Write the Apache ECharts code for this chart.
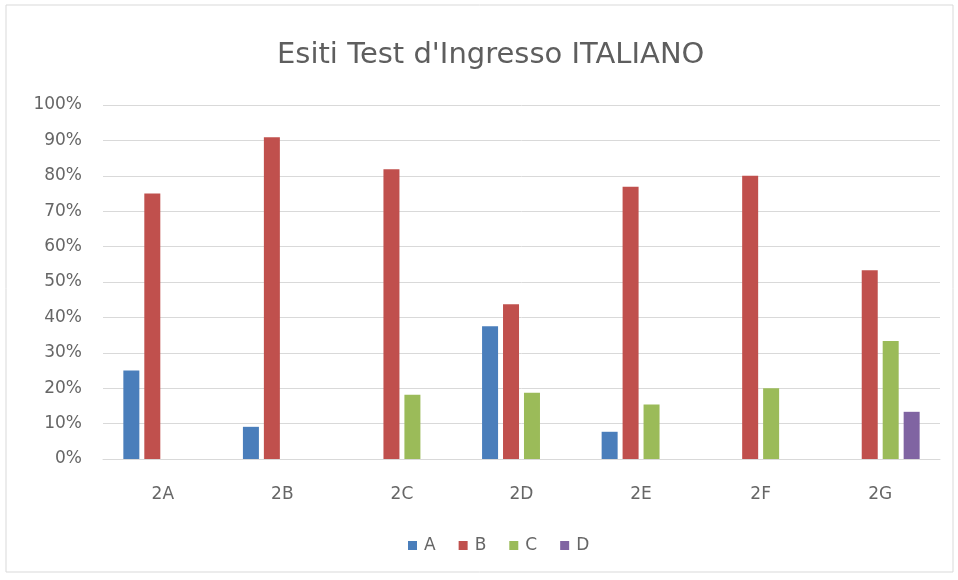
<!DOCTYPE html>
<html>
<head>
<meta charset="utf-8">
<script src="https://cdn.jsdelivr.net/npm/echarts@6/dist/echarts.min.js"></script>
<style>
  html, body { margin: 0; padding: 0; background: #ffffff; }
  #chart { width: 958px; height: 580px; }
</style>
</head>
<body>
<div id="chart"></div>
<script>
// Classi e percentuali per fascia di esito
const classi = ['2A', '2B', '2C', '2D', '2E', '2F', '2G'];
const fasciaA = [0.25, 0.0909, null, 0.375, 0.0769, null, null];
const fasciaB = [0.75, 0.9091, 0.8182, 0.4375, 0.7692, 0.80, 0.5333];
const fasciaC = [null, null, 0.1818, 0.1875, 0.1538, 0.20, 0.3333];
const fasciaD = [null, null, null, null, null, null, 0.1333];
const nomiFasce = ['A', 'B', 'C', 'D'];
const colori = ['#4a7ebb', '#c0504d', '#9bbb59', '#8064a2'];

const chart = echarts.init(document.getElementById('chart'), null, { renderer: 'canvas' });
const font = '"DejaVu Sans", sans-serif';
const serieDati = [fasciaA, fasciaB, fasciaC, fasciaD];

chart.setOption({
  animation: false,
  backgroundColor: '#ffffff',
  color: colori,
  title: {
    text: "Esiti Test d'Ingresso ITALIANO",
    left: 272,
    top: 36,
    textStyle: { fontFamily: font, fontSize: 29, fontWeight: 'normal', color: '#5e5e5e' }
  },
  graphic: [{
    type: 'rect',
    shape: { x: 6, y: 5, width: 947, height: 567 },
    style: { fill: 'none', stroke: '#d9d9d9', lineWidth: 1 },
    silent: true
  }],
  legend: {
    bottom: 21,
    left: 403,
    itemWidth: 9,
    itemHeight: 9,
    itemGap: 23,
    icon: 'rect',
    textStyle: { fontFamily: font, fontSize: 17, color: '#666666', padding: [0, 0, 0, 2] },
    data: nomiFasce
  },
  grid: { left: 103, right: 18, top: 105, bottom: 121 },
  xAxis: {
    type: 'category',
    data: classi,
    axisLine: { lineStyle: { color: '#d9d9d9', width: 1 } },
    axisTick: { show: false },
    axisLabel: { fontFamily: font, fontSize: 17, color: '#666666', margin: 27 }
  },
  yAxis: {
    type: 'value',
    min: 0,
    max: 1,
    interval: 0.1,
    axisLine: { show: false },
    axisTick: { show: false },
    splitLine: { lineStyle: { color: '#d9d9d9', width: 1 } },
    axisLabel: {
      fontFamily: font, fontSize: 17, color: '#666666', margin: 21,
      formatter: v => Math.round(v * 100) + '%'
    }
  },
  series: nomiFasce.map((nome, i) => ({
    name: nome,
    type: 'bar',
    data: serieDati[i],
    barWidth: 16,
    barGap: '31%',
    itemStyle: { color: colori[i] }
  }))
});
</script>
</body>
</html>
